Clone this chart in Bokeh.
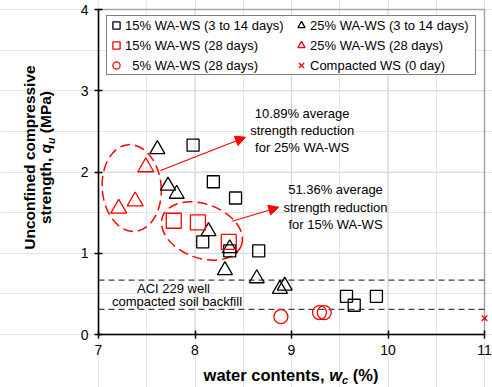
import math

from bokeh.embed import file_html
from bokeh.models import (Arrow, BoxAnnotation, FixedTicker, Label, Legend,
                          LegendItem, LinearAxis, NormalHead, Range1d)
from bokeh.plotting import figure
from bokeh.resources import INLINE

# ---- data: water content wc (%) vs unconfined compressive strength qu (MPa)
wa15_early_wc = [7.98, 8.19, 8.42, 8.08, 8.36, 8.66, 9.57, 9.65, 9.88]
wa15_early_qu = [2.33, 1.88, 1.68, 1.14, 1.03, 1.03, 0.47, 0.36, 0.47]

wa25_early_wc = [7.61, 7.72, 7.81, 8.14, 8.36, 8.31, 8.64, 8.88, 8.93]
wa25_early_qu = [2.28, 1.83, 1.73, 1.27, 1.06, 0.79, 0.69, 0.56, 0.60]

wa15_28_wc = [7.78, 8.03, 8.35]
wa15_28_qu = [1.40, 1.38, 1.14]

wa25_28_wc = [7.49, 7.38, 7.21]
wa25_28_qu = [2.06, 1.64, 1.55]

wa5_28_wc = [8.89, 9.29, 9.34]
wa5_28_qu = [0.22, 0.27, 0.27]

ws0_wc = [11.0]
ws0_qu = [0.20]

# ACI 229 strength bounds for well compacted soil backfill (MPa)
aci_limits = [0.67, 0.31]

x_ticks = [7, 8, 9, 10, 11]
y_ticks = [0, 1, 2, 3, 4]

legend_labels = [
    "15% WA-WS (3 to 14 days)",
    "15% WA-WS (28 days)",
    "\u20075% WA-WS (28 days)",
    "25% WA-WS (3 to 14 days)",
    "25% WA-WS (28 days)",
    "Compacted WS (0 day)",
]

note_25 = "10.89% average\nstrength reduction\nfor 25% WA-WS"
note_15 = "51.36% average\nstrength reduction\nfor 15% WA-WS"
aci_note = ["ACI 229 well", "compacted soil backfill"]

FONT = "Liberation Sans"
RED = "#ff0000"

# pixel box of the plotting area inside the 492 x 387 canvas
W, H = 492, 387
FL, FR, FT, FB = 98, 484, 9, 334
X0, X1 = x_ticks[0], x_ticks[-1]
Y0, Y1 = y_ticks[0], y_ticks[-1]


def dx(sx):
    return X0 + (sx - FL) * (X1 - X0) / (FR - FL)


def dy(sy):
    return Y0 + (FB - sy) * (Y1 - Y0) / (FB - FT)


# the frame fills the canvas; axes are pinned to the data box so that the
# titles and notes around it stay inside the drawable area
p = figure(width=W, height=H,
           x_range=Range1d(dx(0), dx(W)), y_range=Range1d(dy(H), dy(0)),
           output_backend="svg", toolbar_location=None,
           x_axis_location=None, y_axis_location=None, min_border=0)
p.background_fill_color = "white"
p.border_fill_color = "white"
p.outline_line_color = None

xaxis = LinearAxis(fixed_location=Y0, bounds=(X0, X1),
                   ticker=FixedTicker(ticks=x_ticks))
yaxis = LinearAxis(fixed_location=X0, bounds=(Y0, Y1),
                   ticker=FixedTicker(ticks=y_ticks))
p.add_layout(xaxis, "below")
p.add_layout(yaxis, "left")
for ax in (xaxis, yaxis):
    ax.axis_line_color = "black"
    ax.axis_line_width = 1.5
    ax.major_tick_line_color = "black"
    ax.major_tick_line_width = 1.5
    ax.major_tick_in = 4
    ax.major_tick_out = 4
    ax.minor_tick_line_color = None
    ax.major_label_text_font = FONT
    ax.major_label_text_font_size = "14px"
    ax.major_label_text_color = "black"
    ax.major_label_standoff = 6

# light grid inside the data box
gx = x_ticks[1:-1]
gy = y_ticks[1:-1]
p.segment(x0=gx, y0=Y0, x1=gx, y1=Y1, line_color="#d9d9d9", line_width=1.2)
p.segment(x0=X0, y0=gy, x1=X1, y1=gy, line_color="#d9d9d9", line_width=1.2)

# ACI 229 dashed reference lines
p.segment(x0=X0, y0=aci_limits, x1=X1, y1=aci_limits, line_color="#404040",
          line_dash="6 4", line_width=1.2)

# dashed ellipses grouping the 28-day specimens
ell_x = [dx(131.2), dx(201.5)]
ell_y = [dy(187.5), dy(230.5)]
ell_w = [59, 84]
ell_h = [87, 54]
ell_a = [0.08, -0.35]
p.ellipse(x=ell_x, y=ell_y, width=ell_w, height=ell_h, angle=ell_a,
          width_units="screen", height_units="screen",
          fill_color=None, line_color=RED, line_dash="10 5", line_width=1.5)

# data markers
r_sq15 = p.scatter(wa15_early_wc, wa15_early_qu, marker="square", size=12,
                   fill_color=None, line_color="black", line_width=1.3)
r_tri25 = p.scatter(wa25_early_wc, wa25_early_qu, marker="triangle", size=15,
                    fill_color=None, line_color="black", line_width=1.3)
r_sq15_28 = p.scatter(wa15_28_wc, wa15_28_qu, marker="square", size=15,
                      fill_color=None, line_color=RED, line_width=1.3)
r_tri25_28 = p.scatter(wa25_28_wc, wa25_28_qu, marker="triangle", size=16,
                       fill_color=None, line_color=RED, line_width=1.3)
r_c5 = p.scatter(wa5_28_wc, wa5_28_qu, marker="circle", size=14,
                 fill_color=None, line_color=RED, line_width=1.3)
r_ws = p.scatter(ws0_wc, ws0_qu, marker="x", size=8,
                 line_color=RED, line_width=1.3)

# border of the data box
p.add_layout(BoxAnnotation(left=X0, right=X1, bottom=Y0, top=Y1,
                           fill_color=None, line_color="black",
                           line_width=1.5))

# arrows from the ellipses to their notes
arrows = [(dx(160), dy(170), dx(245), dy(136.7)),
          (dx(231.7), dy(220.7), dx(278.3), dy(206.7))]
for xs, ys, xe, ye in arrows:
    p.add_layout(Arrow(end=NormalHead(size=10, fill_color=RED, line_color=RED,
                                      line_width=1),
                       x_start=xs, y_start=ys, x_end=xe, y_end=ye,
                       line_color=RED, line_width=1.2))

for txt, sx, sy in ((note_25, 301.7, 130.0), (note_15, 335.0, 206.7)):
    p.add_layout(Label(x=dx(sx), y=dy(sy), text=txt, text_align="center",
                       text_baseline="middle", text_font=FONT,
                       text_font_size="13px", text_color="black",
                       text_line_height=1.15))

for txt, sx, sy in zip(aci_note, (173.0, 176.5), (287.5, 301.0)):
    p.add_layout(Label(x=dx(sx), y=dy(sy), text=txt, text_align="center",
                       text_baseline="middle", text_font=FONT,
                       text_font_size="13px", text_color="black"))

# legend: two columns, three rows
items = [LegendItem(label=lab, renderers=[r]) for lab, r in zip(
    legend_labels, [r_sq15, r_sq15_28, r_c5, r_tri25, r_tri25_28, r_ws])]
legend = Legend(items=items, location=(106, H - 75), orientation="vertical",
                ncols=2, glyph_width=18, glyph_height=18, label_standoff=0,
                spacing=2, padding=0, label_width=165, label_height=18,
                margin=0, border_line_color="black", border_line_width=1,
                background_fill_color="white", background_fill_alpha=1,
                label_text_font=FONT, label_text_font_size="13px",
                label_text_color="black")
p.add_layout(legend)

# axis titles assembled from pieces (italic symbol with subscript)
BOLD_W = {' ': 278, '(': 333, ')': 333, ',': 278, '%': 889, 'M': 833,
          'P': 667, 'a': 556, 'c': 556, 'e': 556, 'g': 611, 'h': 611,
          'n': 611, 'o': 611, 'q': 611, 'r': 389, 's': 556, 't': 333,
          'u': 611, 'w': 778}


def text_w(s, size):
    return sum(BOLD_W[ch] for ch in s) * size / 1000


TS = 15.5
SUB = 10.5
GAP = text_w(" ", TS)
TSX = 16.5
SUBX = 11
GAPX = text_w(" ", TSX)

# (text, font size, style, offset of the text centre line, gap before)
x_pieces = [("water contents,", TSX, "bold", 0, 0),
            ("w", TSX, "bold italic", 0, GAPX),
            ("c", SUBX, "bold italic", 5.5, 0),
            ("(%)", TSX, "bold", 0, GAPX)]
total = sum(text_w(t, s) + g for t, s, _, _, g in x_pieces)
cx = 290.5 - total / 2
for t, s, style, shift, gap in x_pieces:
    cx += gap
    p.add_layout(Label(x=dx(cx), y=dy(374 + shift), text=t,
                       text_align="left", text_baseline="middle",
                       text_font=FONT, text_font_size=f"{s}px",
                       text_font_style=style, text_color="black"))
    cx += text_w(t, s)

p.add_layout(Label(x=dx(28.5), y=dy(157), text="Unconfined compressive",
                   angle=math.pi / 2, text_align="center",
                   text_baseline="middle", text_font=FONT,
                   text_font_size=f"{TS}px", text_font_style="bold",
                   text_color="black"))

y_pieces = [("strength,", TS, "bold", 0, 0),
            ("q", TS, "bold italic", 0, GAP),
            ("u", SUB, "bold italic", 5.5, 0),
            ("(MPa)", TS, "bold", 0, GAP)]
total = sum(text_w(t, s) + g for t, s, _, _, g in y_pieces)
cy = 157 + total / 2
for t, s, style, shift, gap in y_pieces:
    cy -= gap
    p.add_layout(Label(x=dx(45 + shift), y=dy(cy), text=t,
                       angle=math.pi / 2, text_align="left",
                       text_baseline="middle", text_font=FONT,
                       text_font_size=f"{s}px", text_font_style=style,
                       text_color="black"))
    cy -= text_w(t, s)

with open("out.html", "w") as f:
    f.write(file_html(p, INLINE))
